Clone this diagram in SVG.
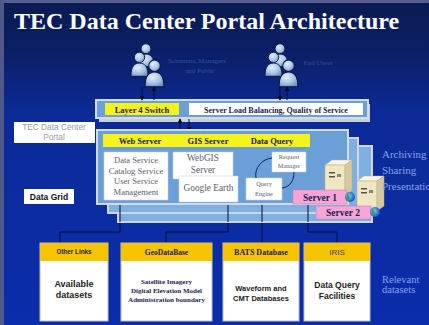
<svg xmlns="http://www.w3.org/2000/svg" width="429" height="325" viewBox="0 0 429 325">
  <defs>
    <linearGradient id="bg" x1="0" y1="0" x2="0" y2="1">
      <stop offset="0" stop-color="#0a1a52"/>
      <stop offset="0.16" stop-color="#0b1f66"/>
      <stop offset="0.34" stop-color="#0c2a96"/>
      <stop offset="1" stop-color="#0b2dac"/>
    </linearGradient>
    <radialGradient id="personFill" cx="0.4" cy="0.35" r="0.7">
      <stop offset="0" stop-color="#e4eefa"/>
      <stop offset="0.6" stop-color="#a9c4e4"/>
      <stop offset="1" stop-color="#6f93c4"/>
    </radialGradient>
    <radialGradient id="globe" cx="0.4" cy="0.4" r="0.6">
      <stop offset="0" stop-color="#7fd0ff"/>
      <stop offset="1" stop-color="#1a50c0"/>
    </radialGradient>
    <marker id="arr" viewBox="0 0 6 6" refX="5" refY="3" markerWidth="5" markerHeight="5" orient="auto">
      <path d="M0,0 L6,3 L0,6 Z" fill="#05081e"/>
    </marker>
    <symbol id="person" viewBox="-10 -14 20 28" overflow="visible">
      <path d="M-9,13 C-9,2 -5,-1 0,-1 C5,-1 9,2 9,13 Z" fill="url(#personFill)" stroke="#0a1440" stroke-width="1"/>
      <circle cx="0" cy="-7" r="5.5" fill="url(#personFill)" stroke="#0a1440" stroke-width="1"/>
    </symbol>
    <g id="server">
      <path d="M0,5 L7,0 L27,0 L20,5 Z" fill="#fbf6e2" stroke="#b8ad88" stroke-width="0.5"/>
      <rect x="0" y="5" width="20" height="30" fill="#efe6c4" stroke="#b8ad88" stroke-width="0.5"/>
      <path d="M20,5 L27,0 L27,30 L20,35 Z" fill="#d5c99f" stroke="#b8ad88" stroke-width="0.5"/>
      <rect x="4" y="12" width="6" height="1.5" fill="#5a5448"/>
      <rect x="4" y="16" width="6" height="1.5" fill="#5a5448"/>
      <rect x="12" y="14" width="4" height="3" fill="#8a8270"/>
    </g>
  </defs>
  <style>
    .serif { font-family: "Liberation Serif", "Times New Roman", serif; }
    .sans { font-family: "Liberation Sans", Arial, sans-serif; }
    .panel { fill: #6b9fd8; stroke: #d4dbe6; stroke-width: 2; }
    .panelBack { fill: #7fb0e2; stroke: #cfd6e2; stroke-width: 2; }
    .yellow { fill: #f6f21c; }
    .white { fill: #ffffff; }
    .inner { fill: #ffffff; stroke: #c8d2e0; stroke-width: 0.6; }
    .barText { font-family: "Liberation Serif", serif; font-weight: bold; fill: #1c1c50; text-anchor: middle; }
    .grayText { font-family: "Liberation Serif", serif; fill: #5e5e6e; text-anchor: middle; }
    .pink { fill: #f5a6d6; stroke: #d27fb5; stroke-width: 0.6; }
    .header { fill: #f6c400; }
    .dbBox { fill: #ffffff; stroke: #b9c3d2; stroke-width: 1; }
    .conn { fill: none; stroke: #060c3a; stroke-width: 1; }
    .side { font-family: "Liberation Serif", serif; fill: #86a4ea; }
    .faint { font-family: "Liberation Serif", serif; fill: #3552a6; font-size: 7px; }
  </style>

  <!-- backdrop -->
  <rect x="0" y="0" width="429" height="325" fill="url(#bg)"/>
  <rect x="0" y="0" width="429" height="3" fill="#555e8e"/>
  <rect x="0" y="0" width="4" height="325" fill="#4f5889"/>

  <text x="14" y="29" class="serif" font-size="24" font-weight="bold" fill="#ffffff">TEC Data Center Portal Architecture</text>

  <!-- user groups -->
  <g id="users-public">
    <use href="#person" x="137" y="42" width="18" height="26"/>
    <use href="#person" x="130" y="50" width="19" height="28"/>
    <use href="#person" x="144" y="58" width="21" height="30"/>
    <text x="197" y="63" class="faint" text-anchor="middle">Scientists, Managers</text>
    <text x="200" y="73" class="faint" text-anchor="middle">and Public</text>
  </g>
  <g id="users-end">
    <use href="#person" x="271" y="42" width="18" height="26"/>
    <use href="#person" x="264" y="50" width="19" height="28"/>
    <use href="#person" x="278" y="58" width="21" height="30"/>
    <text x="318" y="65" class="faint" text-anchor="middle">End Users</text>
  </g>

  <!-- switch / load balancing bar -->
  <g id="switch-bar">
    <rect x="99" y="104" width="271" height="18" fill="#c9d1dd"/>
    <rect x="96" y="100" width="272" height="18" class="panel" stroke-width="1.2"/>
    <rect x="105" y="103" width="74" height="12" class="yellow"/>
    <text x="142" y="112.5" class="barText" font-size="8.5">Layer 4 Switch</text>
    <rect x="189" y="103" width="174" height="12" class="white"/>
    <text x="276" y="112.5" class="barText" font-size="8">Server Load Balancing, Quality of Service</text>
  </g>

  <g id="portal-label">
    <rect x="14" y="122" width="81" height="21" fill="#ffffff"/>
    <text x="54" y="130" class="sans" font-size="8.3" fill="#9a9aa8" text-anchor="middle">TEC Data Center</text>
    <text x="54" y="140" class="sans" font-size="8.3" fill="#9a9aa8" text-anchor="middle">Portal</text>
  </g>

  <g id="datagrid-label">
    <rect x="24" y="189" width="50" height="15" fill="#ffffff"/>
    <text x="49" y="200" class="sans" font-size="8.5" font-weight="bold" fill="#111" text-anchor="middle">Data Grid</text>
  </g>

  <!-- connectors -->
  <g id="connectors">
    <line x1="142" y1="87" x2="142" y2="100" class="conn" marker-end="url(#arr)"/>
    <line x1="154" y1="100" x2="154" y2="87" class="conn" marker-end="url(#arr)"/>
    <line x1="280" y1="87" x2="280" y2="100" class="conn" marker-end="url(#arr)"/>
    <line x1="287" y1="100" x2="287" y2="87" class="conn" marker-end="url(#arr)"/>
    <line x1="180" y1="131" x2="180" y2="119" class="conn" marker-end="url(#arr)"/>
    <line x1="189" y1="119" x2="189" y2="131" class="conn" marker-end="url(#arr)"/>
    <path d="M120,205 V232 H60 V243" class="conn"/>
    <path d="M228,205 V232 H166 V243" class="conn"/>
    <path d="M262,205 V243" class="conn"/>
    <path d="M308,205 V232 H337 V243" class="conn"/>
  </g>

  <!-- portal server stack -->
  <g id="portal-stack">
    <rect x="118" y="146" width="254" height="76" class="panelBack"/>
    <rect x="108" y="138" width="250" height="75" class="panelBack"/>
    <line x1="120" y1="205" x2="120" y2="222" stroke="#060c3a" stroke-width="1"/>
    <line x1="228" y1="205" x2="228" y2="222" stroke="#060c3a" stroke-width="1"/>
    <line x1="262" y1="205" x2="262" y2="222" stroke="#060c3a" stroke-width="1"/>
    <line x1="308" y1="205" x2="308" y2="222" stroke="#060c3a" stroke-width="1"/>
    <rect x="97" y="130" width="251" height="74" class="panel"/>
    <rect x="103" y="134" width="207" height="13" class="yellow"/>
    <text x="140" y="143.5" class="barText" font-size="8.5">Web Server</text>
    <text x="208" y="143.5" class="barText" font-size="8.5">GIS Server</text>
    <text x="272" y="143.5" class="barText" font-size="8.5">Data Query</text>
  </g>

  <g id="web-services">
    <rect x="104" y="152" width="64" height="48" class="inner"/>
    <text x="136" y="163" class="grayText" font-size="8.6">Data Service</text>
    <text x="136" y="173.5" class="grayText" font-size="8.6">Catalog Service</text>
    <text x="136" y="184" class="grayText" font-size="8.6">User Service</text>
    <text x="136" y="194.5" class="grayText" font-size="8.6">Management</text>
  </g>

  <g id="webgis">
    <rect x="173" y="152" width="60" height="27" class="inner"/>
    <text x="203" y="161" class="grayText" font-size="9.3">WebGIS</text>
    <text x="203" y="173" class="grayText" font-size="9.3">Server</text>
  </g>

  <g id="google-earth">
    <rect x="179" y="176" width="59" height="26" class="inner"/>
    <text x="208.5" y="191" class="grayText" font-size="9.3">Google Earth</text>
  </g>

  <g id="request-manager">
    <rect x="272" y="152" width="34" height="20" class="inner"/>
    <text x="289" y="159" class="grayText" font-size="6.3">Request</text>
    <text x="289" y="167.5" class="grayText" font-size="6.3">Manager</text>
  </g>

  <g id="query-engine">
    <rect x="246" y="178" width="36" height="22" class="inner"/>
    <text x="264" y="186" class="grayText" font-size="6.3">Query</text>
    <text x="264" y="195.5" class="grayText" font-size="6.3">Engine</text>
  </g>

  <g id="query-loop">
    <path d="M256,178 C254,168 262,159 272,158" fill="none" stroke="#10206a" stroke-width="1"/>
    <path d="M294,172 C294,181 290,187 282,188" fill="none" stroke="#10206a" stroke-width="1"/>
  </g>

  <g id="server-1">
    <use href="#server" x="325" y="160"/>
    <rect x="293" y="190" width="54" height="14" class="pink"/>
    <text x="320" y="200.5" class="barText" font-size="9.5">Server 1</text>
    <circle cx="350" cy="197" r="5" fill="url(#globe)"/>
    <path d="M347,194 q2,1 3,4 q-1,3 -3,3 z" fill="#3aa040"/>
  </g>

  <g id="server-2">
    <use href="#server" x="357" y="176"/>
    <rect x="316" y="206" width="55" height="13" class="pink"/>
    <text x="343" y="215.5" class="barText" font-size="9.5">Server 2</text>
    <circle cx="375" cy="212" r="5" fill="url(#globe)"/>
    <path d="M372,209 q2,1 3,4 q-1,3 -3,3 z" fill="#3aa040"/>
  </g>

  <g id="roles-label">
    <text x="382" y="158" class="side" font-size="11">Archiving</text>
    <text x="382" y="174" class="side" font-size="11">Sharing</text>
    <text x="382" y="190" class="side" font-size="11">Presentation</text>
  </g>

  <!-- data sources -->
  <g id="other-links">
    <rect x="40" y="243" width="68" height="78" class="dbBox"/>
    <rect x="40" y="243" width="68" height="18" class="header"/>
    <text x="74" y="254" class="sans" font-size="6.3" font-weight="bold" fill="#1c1c50" text-anchor="middle">Other Links</text>
    <text x="74" y="287" class="sans" font-size="9" font-weight="bold" fill="#222" text-anchor="middle">Available</text>
    <text x="74" y="298" class="sans" font-size="9" font-weight="bold" fill="#222" text-anchor="middle">datasets</text>
  </g>

  <g id="geodatabase">
    <rect x="121" y="243" width="91" height="78" class="dbBox"/>
    <rect x="121" y="243" width="91" height="18" class="header"/>
    <text x="166.5" y="254.5" class="barText" font-size="7.5">GeoDataBase</text>
    <text x="166.5" y="283.5" class="barText" font-size="7" fill="#222">Satellite Imagery</text>
    <text x="166.5" y="292.5" class="barText" font-size="7" fill="#222">Digital Elevation Model</text>
    <text x="166.5" y="301.5" class="barText" font-size="7" fill="#222">Administration boundary</text>
  </g>

  <g id="bats-database">
    <rect x="223" y="243" width="76" height="78" class="dbBox"/>
    <rect x="223" y="243" width="76" height="18" class="header"/>
    <text x="261" y="254.5" class="barText" font-size="8">BATS Database</text>
    <text x="261" y="290.5" class="sans" font-size="7.5" font-weight="bold" fill="#222" text-anchor="middle">Waveform and</text>
    <text x="261" y="300.5" class="sans" font-size="7.5" font-weight="bold" fill="#222" text-anchor="middle">CMT Databases</text>
  </g>

  <g id="iris">
    <rect x="304" y="243" width="66" height="78" class="dbBox"/>
    <rect x="304" y="243" width="66" height="18" class="header"/>
    <text x="337" y="255" class="sans" font-size="8" fill="#444" text-anchor="middle">IRIS</text>
    <text x="337" y="287.5" class="sans" font-size="8.5" font-weight="bold" fill="#222" text-anchor="middle">Data Query</text>
    <text x="337" y="298.5" class="sans" font-size="8.5" font-weight="bold" fill="#222" text-anchor="middle">Facilities</text>
  </g>

  <g id="relevant-label">
    <text x="382" y="283" class="side" font-size="10.5">Relevant</text>
    <text x="382" y="293" class="side" font-size="10.5">datasets</text>
  </g>
</svg>
